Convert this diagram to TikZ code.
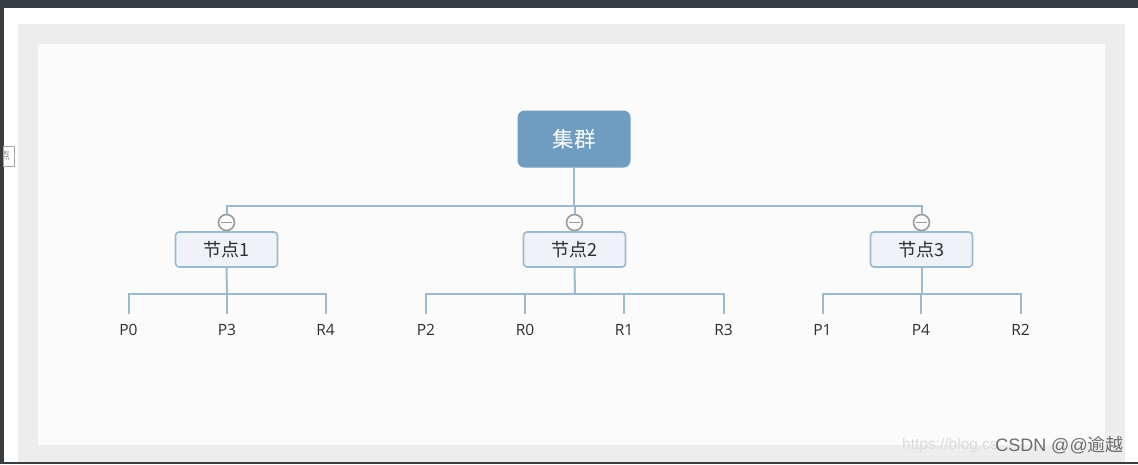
\documentclass[tikz,border=0pt]{standalone}
\usepackage{fontspec}
\setmainfont{Open Sans}
\newfontfamily\cjk{Noto Sans CJK SC}
\newfontfamily\wm{Liberation Sans}
\definecolor{dark}{HTML}{373C41}
\definecolor{band}{HTML}{EDEDED}
\definecolor{paper}{HTML}{FBFBFB}
\definecolor{link}{HTML}{9ABBD2}
\definecolor{rootfill}{HTML}{6E9DC1}
\definecolor{nodefill}{HTML}{EFF3F7}
\definecolor{nodeline}{HTML}{98BAD2}
\definecolor{toggle}{HTML}{9A9A9A}
\definecolor{txt}{HTML}{2B2F33}
\tikzset{
  x=1pt,y=-1pt,
  conn/.style={draw=link,line width=2pt},
  rootbox/.style={draw=none,fill=rootfill,rounded corners=7pt,minimum width=113pt,minimum height=57pt,inner sep=0pt,text=white,font=\cjk\fontsize{21.5}{25}\selectfont},
  midbox/.style={draw=nodeline,fill=nodefill,line width=1.6pt,rounded corners=3.5pt,minimum width=102pt,minimum height=35pt,inner sep=0pt,text=txt,font=\cjk\fontsize{18}{21}\selectfont},
  leaf/.style={inner sep=0pt,text=txt,font=\fontsize{15.5}{18}\selectfont},
  togglemark/.style={circle,draw=toggle,fill=paper,line width=1.6pt,minimum size=16pt,inner sep=0pt},
}
\begin{document}
\begin{tikzpicture}
\useasboundingbox (0,0) rectangle (1138,464);
\fill[dark] (0,0) rectangle (1138,464);
\fill[white] (4,8) rectangle (1138,462);
\fill[band] (18,24) rectangle (1125,462);
\fill[paper] (38,44) rectangle (1105,445);
\node[draw=gray!70,fill=white,line width=1pt,minimum width=11pt,minimum height=20pt,inner sep=0pt,anchor=north east] (tag) at (15,146) {};
\begin{scope}
\clip (4,146) rectangle (15,166);
\node[font=\cjk\fontsize{10}{12}\selectfont,text=gray] (tagtext) at (5,155.5) {点};
\end{scope}

\node[rootbox] (root) at (574,139) {\raisebox{-3pt}{集群}};
\node[midbox] (n1) at (226.5,249.5) {节点1};
\node[midbox] (n2) at (574.5,249.5) {节点2};
\node[midbox] (n3) at (921.5,249.5) {节点3};

\foreach \name/\lab/\x in {p0/P0/128.5,p3/P3/227,r4/R4/325.5,p2/P2/426,r0/R0/525,r1/R1/624,r3/R3/723.5,p1/P1/822.5,p4/P4/921,r2/R2/1020.5}
  \node[leaf] (\name) at (\x,330) {\lab};

\coordinate (bus) at (574,205.5);
\draw[conn] (root.south) -- (bus);
\draw[conn] (n1.north) -- (n1.north |- bus) -- (n3.north |- bus) -- (n3.north);
\draw[conn] (n2.north) -- (n2.north |- bus);

\coordinate (b1) at (227,293.5);
\coordinate (b2) at (575,293.5);
\coordinate (b3) at (922,293.5);
\coordinate (t1) at (0,314);
\draw[conn] (n1.south) -- (b1);
\draw[conn] (n2.south) -- (b2);
\draw[conn] (n3.south) -- (n3.south |- b3);
\draw[conn] (p0.north |- t1) -- (p0.north |- b1) -- (r4.north |- b1) -- (r4.north |- t1);
\draw[conn] (p3.north |- b1) -- (p3.north |- t1);
\draw[conn] (p2.north |- t1) -- (p2.north |- b2) -- (r3.north |- b2) -- (r3.north |- t1);
\draw[conn] (r0.north |- b2) -- (r0.north |- t1);
\draw[conn] (r1.north |- b2) -- (r1.north |- t1);
\draw[conn] (p1.north |- t1) -- (p1.north |- b3) -- (r2.north |- b3) -- (r2.north |- t1);
\draw[conn] (p4.north |- b3) -- (p4.north |- t1);

\foreach \m/\x in {m1/226.5,m2/574.5,m3/921.5}{
  \node[togglemark] (\m) at (\x,222.5) {};
  \draw[toggle,line width=1.5pt] ([xshift=-5.5pt]\m.center) -- ([xshift=5.5pt]\m.center);
}

\node[font=\wm\fontsize{15.5}{18}\selectfont,text=black!14,anchor=west,inner sep=0pt] (wm1) at (902,445) {https://blog.cs};
\node[font=\cjk\fontsize{18}{21}\selectfont,text=gray!85!black,anchor=east,inner sep=0pt] (wm2) at (1124,445) {{\wm\fontsize{18}{21}\selectfont CSDN @@}逾越};
\end{tikzpicture}
\end{document}
